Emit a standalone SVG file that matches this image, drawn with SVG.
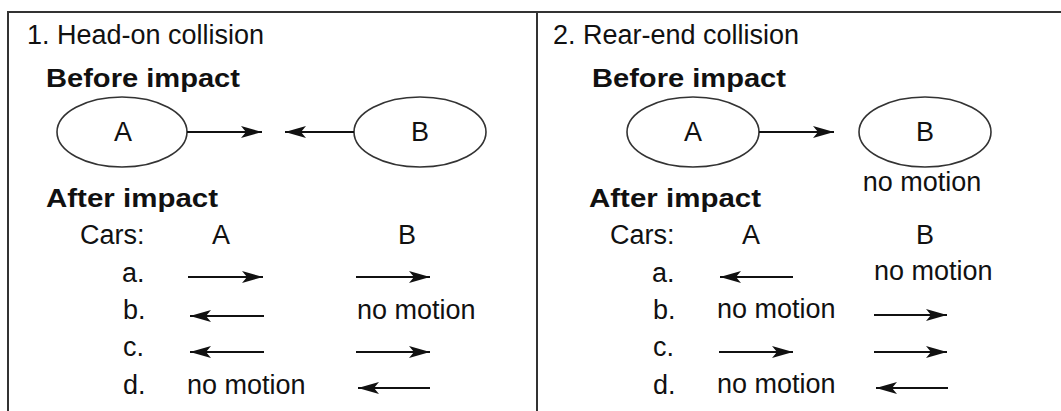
<svg xmlns="http://www.w3.org/2000/svg" width="1061" height="411" viewBox="0 0 1061 411">
<style>
.t{font-family:"Liberation Sans",Arial,sans-serif;font-size:27px;fill:#111}
.b{font-family:"Liberation Sans",Arial,sans-serif;font-size:26px;font-weight:bold;fill:#111}
.m{text-anchor:middle}
.frame{stroke:#333;stroke-width:2;fill:none}
.car{fill:#fff;stroke:#333;stroke-width:1.6}
.arr{stroke:#111;stroke-width:2;fill:none;marker-end:url(#ah)}
</style>
<defs>
<marker id="ah" markerUnits="userSpaceOnUse" markerWidth="22" markerHeight="14" refX="21" refY="6" orient="auto" overflow="visible">
<path d="M0,0 L21,6 L0,12 L5,6 z" fill="#111"/>
</marker>
</defs>
<g id="frame">
<path class="frame" d="M8,411 V12 H1061 M537,12 V411"/>
</g>
<g id="panel1-labels">
<text class="t" x="27" y="44">1. Head-on collision</text>
<text class="b" x="46" y="87" textLength="194" lengthAdjust="spacingAndGlyphs">Before impact</text>
<text class="b" x="46" y="207" textLength="172" lengthAdjust="spacingAndGlyphs">After impact</text>
<text class="t" x="80" y="244">Cars:</text>
<text class="t m" x="221" y="244">A</text>
<text class="t m" x="407" y="244">B</text>
<text class="t" x="122" y="282">a.</text>
<text class="t" x="123" y="319">b.</text>
<text class="t" x="123" y="356">c.</text>
<text class="t" x="123" y="394">d.</text>
<text class="t" x="357" y="319">no motion</text>
<text class="t" x="187" y="394">no motion</text>
</g>
<g id="p1-car-A">
<ellipse class="car" cx="122" cy="132" rx="65" ry="35"/>
<text class="t m" x="123" y="141">A</text>
</g>
<g id="p1-car-B">
<ellipse class="car" cx="420" cy="132" rx="66" ry="35"/>
<text class="t m" x="420" y="141">B</text>
</g>
<g id="panel2-labels">
<text class="t" x="553" y="44">2. Rear-end collision</text>
<text class="b" x="592" y="87" textLength="194" lengthAdjust="spacingAndGlyphs">Before impact</text>
<text class="b" x="589" y="207" textLength="172" lengthAdjust="spacingAndGlyphs">After impact</text>
<text class="t" x="610" y="244">Cars:</text>
<text class="t m" x="751" y="244">A</text>
<text class="t m" x="925" y="244">B</text>
<text class="t" x="652" y="282">a.</text>
<text class="t" x="653" y="319">b.</text>
<text class="t" x="653" y="356">c.</text>
<text class="t" x="653" y="394">d.</text>
<text class="t m" x="922" y="191">no motion</text>
<text class="t" x="874" y="280">no motion</text>
<text class="t" x="717" y="318">no motion</text>
<text class="t" x="717" y="393">no motion</text>
</g>
<g id="p2-car-A">
<ellipse class="car" cx="693" cy="132" rx="66" ry="35"/>
<text class="t m" x="693" y="141">A</text>
</g>
<g id="p2-car-B">
<ellipse class="car" cx="925" cy="132" rx="66" ry="35"/>
<text class="t m" x="925" y="141">B</text>
</g>
<g id="connectors">
<line class="arr" x1="187" y1="132" x2="262" y2="132"/>
<line class="arr" x1="354" y1="132" x2="285" y2="132"/>
<line class="arr" x1="188" y1="277" x2="263" y2="277"/>
<line class="arr" x1="356" y1="277" x2="430" y2="277"/>
<line class="arr" x1="264" y1="316" x2="190" y2="316"/>
<line class="arr" x1="264" y1="352" x2="190" y2="352"/>
<line class="arr" x1="356" y1="352" x2="430" y2="352"/>
<line class="arr" x1="430" y1="388" x2="358" y2="388"/>
<line class="arr" x1="759" y1="132" x2="834" y2="132"/>
<line class="arr" x1="793" y1="277" x2="720" y2="277"/>
<line class="arr" x1="874" y1="315" x2="947" y2="315"/>
<line class="arr" x1="719" y1="352" x2="793" y2="352"/>
<line class="arr" x1="874" y1="352" x2="947" y2="352"/>
<line class="arr" x1="948" y1="388" x2="876" y2="388"/>
</g>
</svg>
